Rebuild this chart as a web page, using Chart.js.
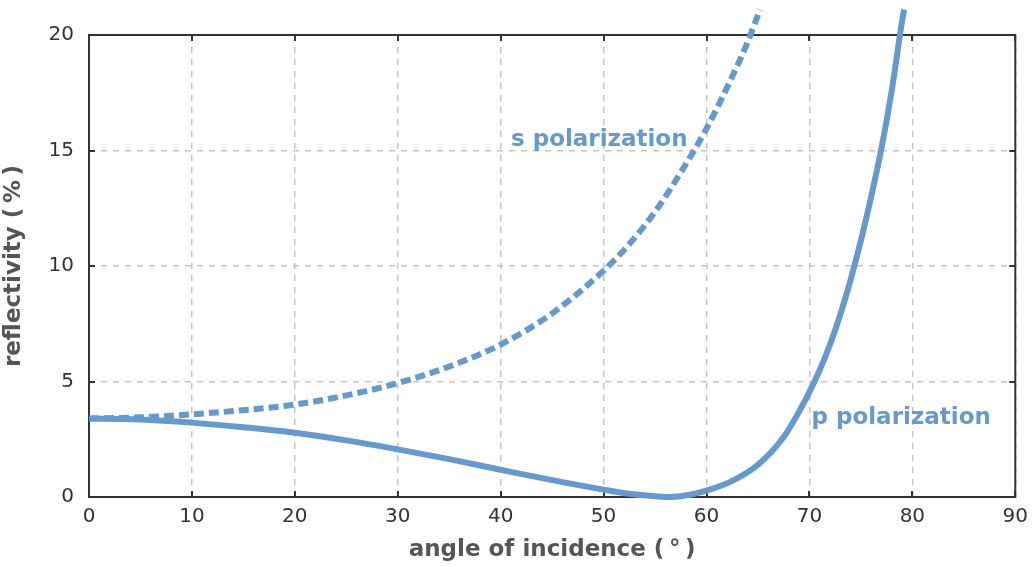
<!DOCTYPE html>
<html>
<head>
<meta charset="utf-8">
<script src="https://cdn.jsdelivr.net/npm/chart.js@4.4.1/dist/chart.umd.min.js"></script>
<style>
  html, body { margin: 0; padding: 0; background: #fff; }
</style>
</head>
<body>
<canvas id="chart" width="1036" height="567"></canvas>
<script>
// Values (angle in degrees, reflectivity in %)
const sAngles  = [0, 5, 10, 15, 20, 25, 30, 35, 40, 45, 50, 52.5, 55, 57.5, 60, 62.5, 64, 65.2];
const sReflect = [3.40, 3.45, 3.58, 3.76, 4.00, 4.40, 4.93, 5.65, 6.60, 7.95, 9.80, 10.95, 12.35, 14.05, 15.95, 18.2, 19.7, 21.1];

const pAngles  = [0, 5, 10, 15, 20, 25, 30, 35, 40, 45, 50, 52.5, 55, 56, 57.5, 60, 62.5, 65, 67.5, 69, 70, 71, 72, 73, 74, 75, 76, 77, 78, 79, 79.2];
const pReflect = [3.40, 3.36, 3.22, 3.02, 2.78, 2.45, 2.06, 1.64, 1.18, 0.73, 0.32, 0.14, 0.03, 0.0, 0.03, 0.28, 0.70, 1.40, 2.60, 3.70, 4.55, 5.50, 6.60, 7.90, 9.40, 11.1, 13.0, 15.1, 17.6, 20.6, 21.1];

const xTicks = [0, 10, 20, 30, 40, 50, 60, 70, 80, 90];
const yTicks = [0, 5, 10, 15, 20];

const seriesNames = ['s polarization', 'p polarization'];

const BLUE = '#6699cc';
const FONT = 'DejaVu Sans';

function toPoints(xs, ys) {
    return xs.map((x, i) => ({ x: x, y: ys[i] }));
}

// Box around the plot with inward tick marks on all four sides
const framePlugin = {
    id: 'frame',
    beforeDatasetsDraw(chart) {
        const { ctx, chartArea: a, scales } = chart;
        ctx.save();
        ctx.strokeStyle = '#333';
        ctx.lineWidth = 2;
        ctx.beginPath();
        xTicks.forEach(v => {
            const px = Math.round(scales.x.getPixelForValue(v));
            ctx.moveTo(px, a.bottom); ctx.lineTo(px, a.bottom - 6);
            ctx.moveTo(px, a.top); ctx.lineTo(px, a.top + 6);
        });
        yTicks.forEach(v => {
            const py = Math.round(scales.y.getPixelForValue(v));
            ctx.moveTo(a.left, py); ctx.lineTo(a.left + 6, py);
            ctx.moveTo(a.right, py); ctx.lineTo(a.right - 6, py);
        });
        ctx.stroke();
        ctx.strokeRect(a.left, a.top, a.right - a.left, a.bottom - a.top);
        ctx.restore();
    }
};

// Curve names written next to the lines
const curveLabels = {
    id: 'curveLabels',
    afterDatasetsDraw(chart) {
        const { ctx, scales } = chart;
        const spots = [[41.0, 15.2], [70.2, 3.16]];
        ctx.save();
        ctx.fillStyle = BLUE;
        ctx.font = 'bold 23px "' + FONT + '"';
        ctx.textAlign = 'left';
        ctx.textBaseline = 'alphabetic';
        seriesNames.forEach((name, i) => {
            ctx.fillText(name, scales.x.getPixelForValue(spots[i][0]), scales.y.getPixelForValue(spots[i][1]));
        });
        ctx.restore();
    }
};

const chart = new Chart(document.getElementById('chart'), {
    type: 'line',
    data: {
        datasets: [{
            label: seriesNames[0],
            data: toPoints(sAngles, sReflect),
            borderColor: BLUE,
            borderWidth: 6,
            borderDash: [10, 5],
            pointRadius: 0,
            cubicInterpolationMode: 'monotone',
            clip: false
        }, {
            label: seriesNames[1],
            data: toPoints(pAngles, pReflect),
            borderColor: BLUE,
            borderWidth: 6,
            pointRadius: 0,
            cubicInterpolationMode: 'monotone',
            clip: false
        }]
    },
    options: {
        responsive: false,
        devicePixelRatio: 1,
        animation: false,
        layout: { padding: { top: 35, right: 19, left: 0, bottom: 0 } },
        plugins: {
            legend: { display: false },
            tooltip: { enabled: false }
        },
        scales: {
            x: {
                type: 'linear',
                min: 0,
                max: 90,
                afterFit: s => { s.height = 70; },
                afterBuildTicks: s => { s.ticks = xTicks.map(v => ({ value: v })); },
                ticks: { color: '#333', font: { family: FONT, size: 20 }, padding: 8 },
                grid: { color: '#c4c4c4', lineWidth: 1.5, drawTicks: false },
                border: { display: false, dash: [6, 6] },
                title: {
                    display: true,
                    text: 'angle of incidence (\u2009°\u2009)',
                    color: '#555',
                    font: { family: FONT, size: 23, weight: 'bold' },
                    padding: { top: 0, bottom: 3 }
                }
            },
            y: {
                min: 0,
                max: 20,
                afterFit: s => { s.width = 89; },
                afterBuildTicks: s => { s.ticks = yTicks.map(v => ({ value: v })); },
                ticks: { color: '#333', font: { family: FONT, size: 20 }, padding: 15 },
                grid: { color: '#c4c4c4', lineWidth: 1.5, drawTicks: false },
                border: { display: false, dash: [6, 6] },
                title: {
                    display: true,
                    text: 'reflectivity (\u2009%\u2009)',
                    color: '#555',
                    font: { family: FONT, size: 23, weight: 'bold' },
                    padding: { top: 0, bottom: 14 }
                }
            }
        }
    },
    plugins: [framePlugin, curveLabels]
});
</script>
</body>
</html>
